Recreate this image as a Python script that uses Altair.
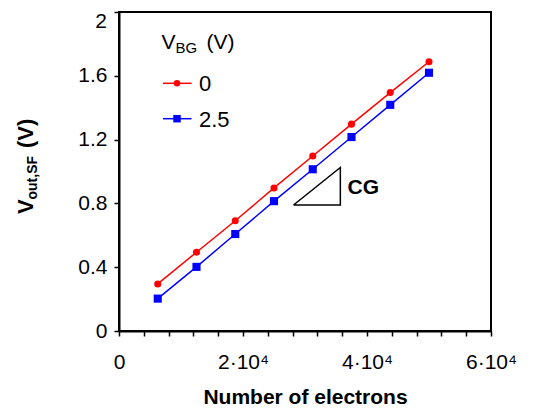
import altair as alt
import pandas as pd

# ---- data ----
electrons = [6250, 12500, 18750, 25000, 31250, 37500, 43750, 50000]
v_bg_0 = [0.295, 0.494, 0.691, 0.897, 1.097, 1.297, 1.495, 1.688]
v_bg_25 = [0.203, 0.402, 0.608, 0.814, 1.014, 1.216, 1.418, 1.619]
series = ["0", "2.5"]
colors = ["#ff0000", "#0000ff"]
shapes = ["circle", "square"]
sizes = [50, 66]
x_ticks = [0, 4000, 8000, 12000, 16000, 20000, 24000, 28000, 32000,
           36000, 40000, 44000, 48000, 52000, 56000, 60000]
y_ticks = [0, 0.4, 0.8, 1.2, 1.6, 2]
tri_x = [28150, 35700, 35700, 28150]
tri_y = [0.79, 0.79, 1.025, 0.79]

FONT = "Liberation Sans"
W, H = 372, 319

rows = []
for s, vals in zip(series, [v_bg_0, v_bg_25]):
    for n, v in zip(electrons, vals):
        rows.append({"n": n, "v": v, "series": s})
df = pd.DataFrame(rows)

xscale = alt.Scale(domain=[0, 60000], nice=False, zero=False)
yscale = alt.Scale(domain=[0, 2], nice=False, zero=False)

x_axis = alt.Axis(
    values=x_ticks,
    labelExpr="datum.value % 20000 == 0 ? (datum.value == 0 ? '0' : (datum.value / 10000) + '·10⁴') : ''",
    labelFont=FONT, labelFontSize=21, labelColor="black", labelPadding=15,
    labelOverlap=False, labelFlush=False, labelBound=False,
    tickColor="black", tickSize=5, tickWidth=1.5,
    domainColor="black", domainWidth=2, grid=False,
    title="Number of electrons", titleFont=FONT, titleFontSize=21,
    titleFontWeight="bold", titleColor="black", titleY=72,
    titleBaseline="alphabetic",
)
# top label "2" is drawn separately (a little lower) so it is not clipped
y_axis = alt.Axis(
    values=y_ticks, format=".1~f",
    labelExpr="datum.value >= 2 ? '' : datum.label",
    labelFont=FONT, labelFontSize=21, labelColor="black", labelPadding=7,
    labelOverlap=False,
    tickColor="black", tickSize=5, tickWidth=1.5,
    domainColor="black", domainWidth=2, grid=False, title=None,
)

X = alt.X("n:Q", scale=xscale, axis=x_axis)
Y = alt.Y("v:Q", scale=yscale, axis=y_axis)

color_scale = alt.Scale(domain=series, range=colors)

lines = alt.Chart(df).mark_line(strokeWidth=1.5).encode(
    x=X, y=Y,
    color=alt.Color("series:N", scale=color_scale, legend=None),
    detail="series:N",
)

layers = [lines]
for s, c, sh, sz in zip(series, colors, shapes, sizes):
    layers.append(
        alt.Chart(df).transform_filter(alt.datum.series == s)
        .mark_point(filled=True, shape=sh, size=sz, color=c, opacity=1)
        .encode(x=X, y=Y)
    )

# slope triangle
tri = pd.DataFrame({"n": tri_x, "v": tri_y, "o": list(range(len(tri_x)))})
layers.append(
    alt.Chart(tri).mark_line(color="black", strokeWidth=1.5).encode(
        x=X, y=Y, order="o:Q"
    )
)
cg = pd.DataFrame({"n": [36850], "v": [0.895], "t": ["CG"]})
layers.append(
    alt.Chart(cg).mark_text(font=FONT, fontSize=21, fontWeight="bold",
                            align="left", baseline="middle", color="black")
    .encode(x=X, y=Y, text="t:N")
)

one = pd.DataFrame({"a": [0]})
def txt(t, x, y, size, weight="normal", angle=0, align="left"):
    d = pd.DataFrame({"t": [t]})
    return alt.Chart(d).mark_text(font=FONT, fontSize=size, fontWeight=weight,
                                  align=align, baseline="alphabetic",
                                  color="black", angle=angle).encode(
        text="t:N", x=alt.value(x), y=alt.value(y))

# top y tick label (nudged down to stay inside the page)
layers.append(txt("2", -12, 15.5, 21, align="right"))

# custom legend
layers.append(txt("V", 42.5, 36.5, 21))
layers.append(txt("BG", 56.5, 40.5, 15))
layers.append(txt("(V)", 87.5, 36.5, 21))

leg_y = [71.3, 106.7]
for s, c, sh, sz, yy in zip(series, colors, shapes, sizes, leg_y):
    layers.append(
        alt.Chart(one).mark_rule(color=c, strokeWidth=1.5).encode(
            x=alt.value(44), x2=alt.value(72.5), y=alt.value(yy))
    )
    layers.append(
        alt.Chart(one).mark_point(filled=True, shape=sh, size=sz * 0.85, color=c, opacity=1)
        .encode(x=alt.value(58), y=alt.value(yy))
    )
    layers.append(txt(s, 80, yy + 8, 22))

# y-axis title with subscript, rotated
layers.append(txt("V", -86.5, 202, 22, "bold", 270))
layers.append(txt("out,SF", -82.5, 187.5, 14, "bold", 270))
layers.append(txt("(V)", -86.5, 136, 22, "bold", 270))

chart = alt.layer(*layers).properties(
    width=W, height=H,
    autosize=alt.AutoSizeParams(type="none"),
    padding={"left": 111, "top": 4, "right": 30, "bottom": 80},
).configure_view(stroke="black", strokeWidth=2).configure_axis(labelOverlap=False)

chart.save("out.html", embed_options={"renderer": "svg", "actions": False})
